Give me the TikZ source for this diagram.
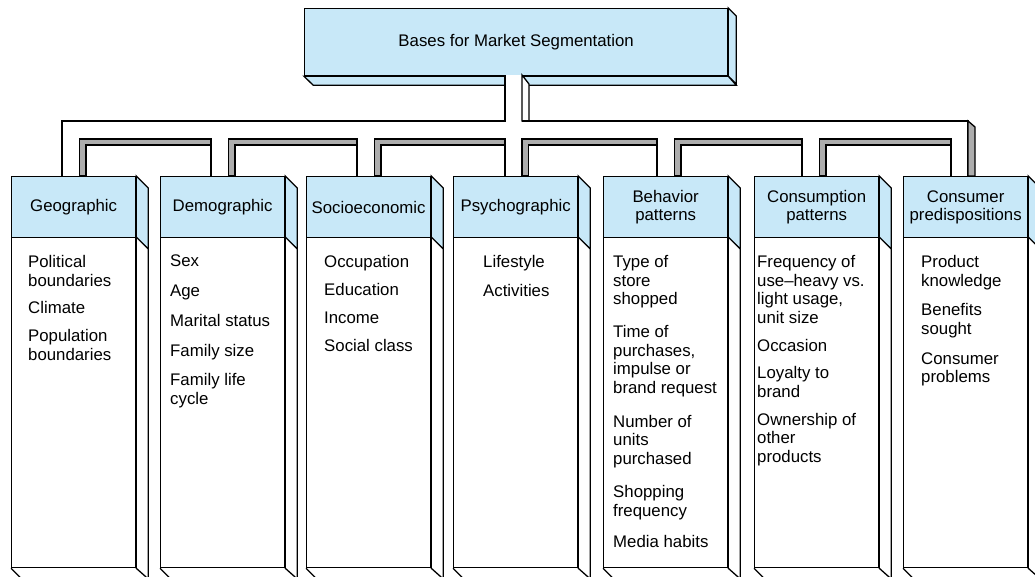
\documentclass[tikz,border=0pt]{standalone}
\usepackage{fontspec}
\setmainfont{Liberation Sans}
\definecolor{hdr}{RGB}{200,232,248}
\tikzset{
  x=1pt,y=-1pt,
  ln/.style={line width=1.3pt, line join=miter},
  blueface/.style={ln, draw=black, fill=hdr},
  whiteface/.style={ln, draw=black, fill=white},
  hatchface/.style={ln, draw=black, fill=black!32},
  hdrbox/.style={blueface, inner sep=0pt, align=center, font=\fontsize{16.8}{18.5}\selectfont},
  bodybox/.style={whiteface, inner sep=0pt},
  bodytxt/.style={inner sep=0pt, align=left, font=\fontsize{16.8}{18.7}\selectfont},
}
\newcommand\segcol[5]{%
  \node[bodybox, anchor=north west, minimum width=124pt, minimum height=330pt] (#2b) at (#1,237) {};
  \node[hdrbox, anchor=north west, minimum width=124pt, minimum height=61pt] (#2h) at (#1,176) {#3};
  \path[blueface] (#2h.north east) -- ++(12,12) -- ++(0,61) -- (#2h.south east) -- cycle;
  \path[whiteface] (#2b.north east) -- ++(12,12) -- ++(0,330) -- (#2b.south east) -- cycle;
  \draw[ln] (#2b.south west) -- ++(12,12);
  \node[bodytxt, anchor=north west] (#2t) at (#4,255) {#5};
}
\begin{document}
\begin{tikzpicture}
\useasboundingbox (0,0) rectangle (1035,576);
\clip (0,0) rectangle (1035,576);

% top box
\node[hdrbox, anchor=north west, minimum width=423pt, minimum height=67pt] (top) at (304,8) {Bases for Market Segmentation};
\path[blueface] (top.north east) -- ++(8,8) -- ++(0,68) -- (top.south east) -- cycle;
\path[blueface] (top.south west) -- (top.south east) -- ++(8,9) -- ++(-423,0) -- cycle;

% trunk and comb
\fill[white] (505,75) rectangle (522,121);
\path[whiteface] (522,75) -- (529,84) -- (529,121) -- (522,121) -- cycle;
\draw[ln] (62,176) -- (62,121) -- (505,121) -- (505,75);
\draw[ln] (522,121) -- (968,121) -- (968,176);
\path[hatchface] (968,121) -- (975,127) -- (975,176) -- (968,176) -- cycle;
\foreach \a/\b in {79.5/211, 228.5/357, 374.5/505, 522/657, 674.5/802, 819.5/951}{
  \path[hatchface] (\a,176) -- (\a,139) -- (\b,139) -- (\b,145) -- (\a+6.5,145) -- (\a+6.5,176) -- cycle;
  \draw[ln] (\b,145) -- (\b,176);
}

% columns
\segcol{11}{geo}{Geographic}{28}{Political\\boundaries\\[9pt]Climate\\[9pt]Population\\boundaries}
\segcol{160}{demo}{Demographic}{170}{Sex\\[11pt]Age\\[11pt]Marital status\\[11pt]Family size\\[11pt]Family life\\cycle}
\segcol{306}{socio}{Socioeconomic}{324}{Occupation\\[9.5pt]Education\\[9.5pt]Income\\[9.5pt]Social class}
\segcol{453}{psy}{Psychographic}{483}{Lifestyle\\[10pt]Activities}
\segcol{603}{beh}{Behavior\\patterns}{613}{Type of\\store\\shopped\\[14pt]Time of\\purchases,\\impulse or\\brand request\\[15pt]Number of\\units\\purchased\\[14pt]Shopping\\frequency\\[13pt]Media habits}
\segcol{754}{cons}{Consumption\\patterns}{757}{Frequency of\\use--heavy vs.\\light usage,\\unit size\\[9pt]Occasion\\[9pt]Loyalty to\\brand\\[9pt]Ownership of\\other\\products}
\segcol{903}{cp}{Consumer\\predispositions}{921}{Product\\knowledge\\[11pt]Benefits\\sought\\[11pt]Consumer\\problems}
\end{tikzpicture}
\end{document}
